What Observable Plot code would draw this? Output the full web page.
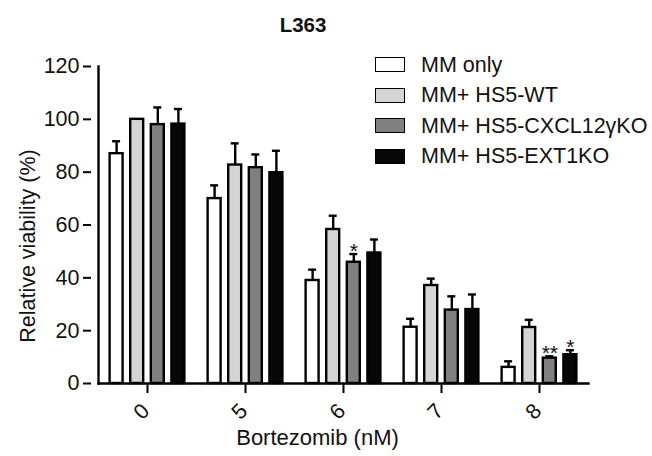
<!DOCTYPE html>
<html><head><meta charset="utf-8">
<script src="https://cdn.jsdelivr.net/npm/d3@7"></script>
<script src="https://cdn.jsdelivr.net/npm/@observablehq/plot@0.6"></script>
<style>
body{margin:0;background:#fff;font-family:"Liberation Sans",Arial,sans-serif;color:#111;}
#wrap{position:relative;width:652px;height:456px;overflow:hidden;}
#wrap svg{position:absolute;left:0;top:0;}
.title{position:absolute;left:203px;width:200px;top:13px;text-align:center;font-weight:bold;font-size:20.5px;line-height:normal;}
.lg-sw{position:absolute;left:375px;width:28px;height:13px;border:1.6px solid #000;}
.lg-tx{position:absolute;left:421px;font-size:21.5px;line-height:normal;white-space:nowrap;}
</style></head><body><div id="wrap"><div class="title">L363</div></div>
<script>
const doses = ["0", "5", "6", "7", "8"];
const series = ["MM only", "MM+ HS5-WT", "MM+ HS5-CXCL12γKO", "MM+ HS5-EXT1KO"];
const mmOnly     = [87.0, 70.0, 39.0, 21.3, 6.1];
const mmOnlyErr  = [4.7, 5.0, 4.1, 3.2, 2.3];
const hs5WT      = [100.0, 82.7, 58.3, 37.1, 21.2];
const hs5WTErr   = [0.0, 8.2, 5.2, 2.6, 2.9];
const hs5CXCL    = [98.0, 81.7, 45.9, 27.8, 9.6];
const hs5CXCLErr = [6.5, 5.0, 3.1, 5.2, 0.7];
const hs5EXT1    = [98.2, 79.8, 49.4, 28.0, 10.9];
const hs5EXT1Err = [5.7, 8.3, 5.1, 5.7, 1.7];
const yTicks = [0, 20, 40, 60, 80, 100, 120];
const starDose = ["6", "8", "8"];
const starSeries = ["MM+ HS5-CXCL12γKO", "MM+ HS5-CXCL12γKO", "MM+ HS5-EXT1KO"];
const starText = ["*", "**", "*"];
const fills = ["#ffffff", "#d4d4d4", "#808080", "#070707"];

const values = [mmOnly, hs5WT, hs5CXCL, hs5EXT1];
const errs = [mmOnlyErr, hs5WTErr, hs5CXCLErr, hs5EXT1Err];
const rows = [];
series.forEach((s, i) => doses.forEach((d, j) => rows.push({dose: d, series: s, value: values[i][j], err: errs[i][j]})));
const errRows = rows.filter(r => r.err > 0);
const starRows = starDose.map((d, k) => {
  const r = rows.find(r => r.dose === d && r.series === starSeries[k]);
  return {dose: d, series: starSeries[k], top: r.value + r.err, label: starText[k]};
});

const chart = Plot.plot({
  width: 652, height: 456,
  marginTop: 66, marginBottom: 73, marginLeft: 91, marginRight: 57,
  style: {fontFamily: "'Liberation Sans', Arial, sans-serif", fontSize: "21.5px", background: "transparent", color: "#111"},
  fx: {domain: doses, paddingInner: 0, paddingOuter: 7 / 98, round: false, label: null},
  x: {domain: series, paddingInner: 0.37, paddingOuter: 0.564, round: false, axis: null},
  y: {domain: [0, 120], label: null},
  color: {domain: series, range: fills},
  marks: [
    Plot.barY(rows, {fx: "dose", x: "series", y: "value", fill: "series", stroke: "#000", strokeWidth: 2.4}),
    Plot.ruleX(errRows, {fx: "dose", x: "series", y1: "value", y2: d => d.value + d.err, stroke: "#000", strokeWidth: 2.4}),
    Plot.tickY(errRows, {fx: "dose", x: "series", y: d => d.value + d.err, stroke: "#000", strokeWidth: 2.4, insetLeft: 2.5, insetRight: 2.5}),
    Plot.text(starRows, {fx: "dose", x: "series", y: "top", text: "label", lineAnchor: "bottom", dy: 4, fontSize: 21}),
    Plot.frame({anchor: "bottom", facet: "super", stroke: "#000", strokeWidth: 2.4}),
    Plot.frame({anchor: "left", facet: "super", stroke: "#000", strokeWidth: 2.4}),
    Plot.axisY({ticks: yTicks, tickSize: 8, tickPadding: 4, strokeWidth: 2, stroke: "#000", label: null, fontSize: 21.5, dx: -7}),
    Plot.axisFx({anchor: "bottom", tickSize: 10, tickFormat: () => "", label: null, strokeWidth: 2, stroke: "#000"}),
    Plot.text(doses, {fx: d => d, text: d => d, frameAnchor: "bottom", dy: 33, dx: -1, rotate: -45, fontSize: 21.5}),
    Plot.text(["Relative viability (%)"], {facet: "super", text: d => d, frameAnchor: "left", textAnchor: "middle", dx: -70, dy: 21, rotate: -90, fontSize: 21.5}),
    Plot.text(["Bortezomib (nM)"], {facet: "super", text: d => d, frameAnchor: "bottom", dx: -26, dy: 61, fontSize: 22})
  ]
});
const wrap = document.getElementById("wrap");
wrap.insertBefore(chart, wrap.firstChild);

series.forEach((s, i) => {
  const sw = document.createElement("div");
  sw.className = "lg-sw";
  sw.style.top = (57 + 30.5 * i) + "px";
  sw.style.background = fills[i];
  wrap.appendChild(sw);
  const tx = document.createElement("div");
  tx.className = "lg-tx";
  tx.textContent = s;
  tx.style.top = (72 - 19.5 + 30.5 * i) + "px";
  wrap.appendChild(tx);
});
</script></body></html>
